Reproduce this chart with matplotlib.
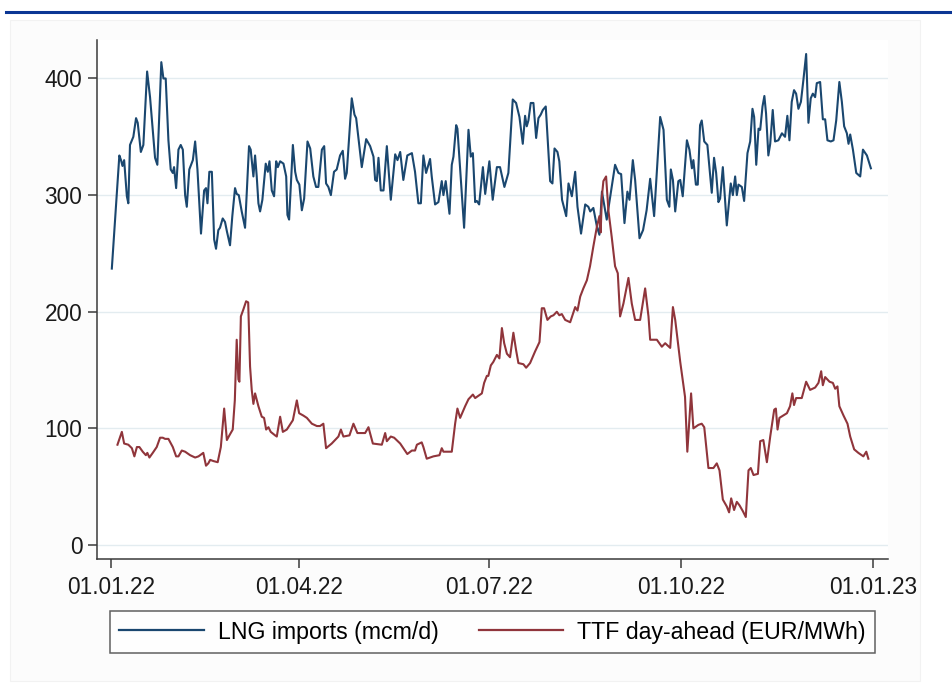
import matplotlib

matplotlib.use("Agg")
import matplotlib.dates as mdates
import matplotlib.pyplot as plt
import pandas as pd
from matplotlib.patches import Rectangle
from matplotlib.lines import Line2D

plt.rcParams["font.family"] = ["Liberation Sans", "DejaVu Sans"]

# days since 01.01.2022 and values
lng_days = [
    0.5, 4.1, 4.9, 5.6, 6.4, 7.7, 8.4, 9.2, 10.8, 12.1, 12.9, 14.4, 15.6, 17.4, 18.8,
    21.2, 22.3, 24.2, 25.2, 26.3, 27.6, 28.7, 29.7, 30.3, 31.3, 32.4, 33.5, 34.5, 35.6,
    36.4, 37.6, 39.3, 40.4, 41.5, 43.2, 44.7, 45.6, 46.3, 47.2, 48.4, 49.5, 50.4, 51.5,
    52.3, 53.6, 54.7, 55.6, 57.1, 58.2, 59.5, 60.3, 61.3, 62.7, 64.3, 66.2, 67.0, 68.3,
    69.1, 69.9, 70.7, 71.5, 72.6, 74.2, 75.2, 76.0, 77.1, 78.2, 79.2, 80.0, 81.1, 82.7,
    84.0, 84.6, 85.4, 87.2, 88.3, 89.1, 90.3, 91.5, 92.6, 94.2, 95.5, 97.0, 98.3, 99.4,
    101.1, 102.2, 103.1, 104.2, 105.4, 106.9, 108.2, 109.8, 111.1, 112.2, 113.0, 115.4,
    116.7, 117.5, 120.2, 122.3, 124.2, 125.8, 126.6, 127.4, 128.2, 129.3, 130.6, 132.2,
    134.1, 136.2, 137.3, 138.6, 140.1, 142.0, 144.2, 145.7, 147.3, 148.5, 149.7, 151.0,
    152.9, 153.7, 155.3, 156.9, 158.5, 159.3, 160.4, 162.2, 163.3, 164.1, 165.4, 166.0,
    167.3, 169.2, 170.2, 171.3, 172.4, 173.4, 174.5, 175.3, 176.4, 178.2, 179.3, 181.3,
    182.9, 184.9, 186.4, 188.5, 190.4, 192.5, 194.1, 195.7, 197.3, 198.4, 199.2, 200.0,
    201.1, 202.4, 203.7, 204.8, 205.9, 206.9, 208.3, 210.4, 211.5, 212.5, 213.9, 214.8,
    216.1, 218.1, 219.2, 220.8, 222.4, 223.5, 225.2, 227.2, 228.7, 229.6, 231.1, 232.8,
    234.0, 235.2, 237.5, 241.5, 243.1, 244.4, 246.0, 247.4, 248.4, 250.0, 251.1, 253.2,
    254.9, 256.6, 258.3, 260.2, 263.1, 264.7, 266.3, 267.5, 268.2, 269.2, 270.3, 271.8,
    272.7, 273.9, 275.9, 277.1, 278.3, 279.0, 280.2, 281.1, 282.2, 283.0, 284.2, 285.7,
    287.8, 288.9, 289.9, 291.0, 291.8, 293.1, 295.0, 296.9, 297.9, 299.0, 299.8, 300.6,
    302.2, 303.3, 304.9, 306.2, 307.3, 308.1, 309.1, 310.2, 311.0, 312.1, 313.0, 313.8,
    314.9, 315.8, 317.0, 318.1, 319.7, 321.4, 322.9, 324.0, 325.0, 326.1, 327.2, 328.2,
    329.3, 330.5, 331.7, 333.0, 334.1, 335.2, 336.2, 337.3, 338.1, 339.7, 341.0, 342.1,
    343.2, 344.8, 346.1, 347.4, 348.9, 350.1, 351.2, 352.5, 353.3, 354.1, 355.4, 357.0,
    358.9, 360.2, 362.1, 364.0,
]
lng_imports = [
    237, 334, 330, 325, 330, 299, 293, 343, 350, 366, 362, 337, 343, 406, 384,
    332, 326, 414, 400, 400, 347, 322, 319, 324, 306, 339, 343, 339, 300,
    290, 322, 330, 346, 322, 267, 304, 306, 293, 320, 320, 262, 254, 270,
    272, 280, 277, 269, 257, 282, 306, 301, 300, 286, 272, 342, 339, 316,
    334, 316, 293, 286, 296, 327, 320, 329, 304, 299, 329, 324, 329, 327,
    316, 283, 279, 343, 320, 313, 309, 287, 297, 346, 340, 316, 307, 307,
    339, 342, 310, 307, 300, 320, 322, 334, 338, 314, 319, 383,
    369, 366, 324, 348, 342, 333, 313, 312, 332, 304, 304, 342,
    296, 335, 330, 337, 313, 334, 336, 320, 293, 293, 334, 319,
    331, 316, 292, 294, 312, 300, 312, 284, 326, 333, 360, 357,
    322, 272, 313, 356, 333, 336, 294, 295, 292, 324, 301, 329,
    296, 324, 324, 307, 319, 382, 379, 367, 344, 368, 359, 364,
    379, 379, 349, 366, 369, 373, 376, 312, 310, 340, 337, 329,
    296, 282, 310, 299, 320, 290, 267, 292, 290, 286, 289, 273,
    266, 303, 279, 326, 319, 318, 276, 303, 296, 330, 313, 263,
    270, 287, 314, 282, 367, 356, 296, 290, 322, 313, 286, 312,
    313, 299, 347, 339, 323, 330, 309, 309, 360, 364, 346, 343,
    302, 332, 319, 294, 297, 324, 274, 310, 300, 316, 300, 309,
    307, 295, 336, 346, 374, 367, 326, 357, 356, 376, 385, 370,
    334, 344, 373, 346, 347, 353, 350, 368, 347, 380, 390, 387,
    374, 380, 399, 421, 362, 383, 387, 384, 396, 397, 365, 365,
    347, 346, 347, 364, 397, 380, 359, 353, 344, 352, 339, 319,
    316, 339, 334, 323,
]

ttf_days = [
    3.2, 5.3, 6.4, 8.4, 10.1, 11.3, 12.5, 13.7, 15.3, 16.8, 17.5, 18.5, 20.1, 22.0,
    23.6, 24.9, 26.0, 27.6, 29.7, 31.3, 32.4, 34.0, 35.6, 38.0, 40.4, 42.0, 44.3, 45.6,
    46.7, 47.6, 49.1, 51.2, 52.7, 54.3, 55.6, 56.8, 58.4, 59.4, 60.3, 61.1, 61.6, 62.3,
    63.5, 64.8, 65.8, 66.7, 67.5, 68.3, 69.1, 70.7, 72.3, 73.4, 74.4, 75.5, 76.6, 78.7,
    79.5, 81.1, 82.4, 84.3, 87.2, 89.1, 90.2, 92.2, 93.9, 96.3, 98.7, 100.2, 101.8,
    103.1, 105.8, 109.0, 110.2, 111.4, 114.3, 116.2, 118.1, 121.8, 123.4, 125.5, 129.8,
    131.4, 132.2, 134.1, 135.7, 138.6, 142.0, 144.2, 145.7, 146.6, 148.9, 149.7, 151.3,
    154.5, 157.4, 158.5, 159.3, 163.3, 164.9, 166.0, 167.3, 169.7, 171.3, 173.4, 174.5,
    177.7, 178.8, 180.1, 180.8, 182.0, 183.2, 184.9, 186.1, 187.3, 188.4, 189.7, 191.2,
    192.8, 194.1, 195.2, 197.6, 198.9, 200.8, 203.2, 205.3, 206.4, 207.5, 209.1, 210.7,
    212.0, 213.6, 214.8, 216.0, 217.6, 220.0, 221.3, 222.4, 223.5, 224.8, 226.3, 228.0,
    229.5, 231.1, 232.8, 234.0, 234.6, 235.2, 235.9, 237.2, 238.3, 239.9, 241.5, 242.8,
    243.9, 245.5, 247.9, 249.5, 251.1, 253.5, 255.9, 257.5, 258.3, 261.5, 263.9, 265.5,
    267.9, 269.2, 270.3, 272.7, 275.0, 276.1, 277.9, 279.0, 281.4, 283.0, 284.2, 286.2,
    288.6, 290.2, 291.5, 293.1, 295.0, 296.1, 297.1, 298.5, 299.8, 301.1, 302.7, 304.1,
    305.4, 306.5, 307.8, 309.9, 311.0, 312.5, 314.2, 315.8, 317.7, 318.5, 319.3, 320.2,
    323.8, 325.3, 326.4, 327.2, 328.2, 330.9, 333.0, 334.9, 337.3, 338.9, 340.2, 341.0,
    342.1, 344.2, 345.8, 346.9, 348.0, 348.9, 350.9, 352.8, 354.1, 356.0, 358.0, 360.4,
    361.8, 362.8,
]
ttf_price = [
    86, 97, 87, 86, 83, 76, 84, 84, 80, 77, 79, 75, 79, 84,
    92, 92, 91, 91, 84, 76, 76, 81, 80, 77, 75, 76, 79, 68,
    70, 73, 72, 71, 84, 117, 90, 94, 99, 124, 176, 142, 140, 196,
    202, 209, 208, 153, 133, 121, 130, 119, 110, 109, 99, 101, 97, 94,
    93, 110, 97, 99, 107, 124, 113, 111, 109, 104, 102, 102, 104,
    83, 87, 93, 99, 93, 94, 104, 96, 96, 101, 87, 86,
    96, 89, 93, 92, 87, 78, 81, 81, 86, 88, 84, 74,
    76, 77, 83, 80, 80, 104, 117, 109, 119, 125, 129, 126,
    130, 139, 145, 145, 154, 157, 163, 160, 186, 173, 164, 161,
    182, 167, 156, 155, 152, 156, 166, 174, 203, 203, 193, 196,
    197, 200, 197, 198, 193, 191, 198, 204, 201, 213, 220, 227,
    239, 256, 273, 282, 268, 299, 312, 316, 287, 264, 239, 233,
    196, 207, 229, 207, 193, 193, 220, 196, 176, 176, 170, 173,
    169, 204, 193, 157, 127, 80, 130, 100, 103, 104, 101, 66,
    66, 70, 64, 39, 33, 28, 40, 30, 37, 34, 29, 24,
    64, 66, 60, 61, 89, 90, 71, 93, 116, 117, 99, 109,
    113, 119, 130, 120, 126, 126, 140, 133, 135, 139, 149, 137,
    144, 140, 139, 134, 136, 119, 111, 104, 93, 82, 79, 76,
    80, 74,
]

tick_dates = ["2022-01-01", "2022-04-01", "2022-07-01", "2022-10-01", "2023-01-01"]
y_ticks = [0, 100, 200, 300, 400]
series_labels = ["LNG imports (mcm/d)", "TTF day-ahead (EUR/MWh)"]

start = pd.Timestamp("2022-01-01")
lng_dates = start + pd.to_timedelta(lng_days, unit="D")
ttf_dates = start + pd.to_timedelta(ttf_days, unit="D")

blue = "#1a476f"
maroon = "#90353b"
axis_col = "#3a3a3a"

fig = plt.figure(figsize=(9.53, 6.86), dpi=100)

# faint page frame and the header rule
frame = Rectangle((10 / 953, 1 - 681 / 686), 910 / 953, 661 / 686,
                  transform=fig.transFigure, facecolor="#fcfcfc",
                  edgecolor="#f2f2f2", linewidth=0.8, zorder=-10)
fig.add_artist(frame)
fig.add_artist(Line2D([6 / 953, 1.0], [1 - 12 / 686, 1 - 12 / 686],
                      transform=fig.transFigure, color="#0b3694", linewidth=2.2))

ax = fig.add_axes([97 / 953, 1 - 559 / 686, 791 / 953, 519 / 686])
ax.set_facecolor("white")

ax.plot(lng_dates, lng_imports, color=blue, linewidth=1.5, label=series_labels[0])
ax.plot(ttf_dates, ttf_price, color=maroon, linewidth=1.5, label=series_labels[1])

ax.set_ylim(-12, 433)
ax.set_xlim(start + pd.Timedelta(days=-6.6), start + pd.Timedelta(days=372.2))
ax.set_yticks(y_ticks)
ax.set_xticks(pd.to_datetime(tick_dates))
ax.xaxis.set_major_formatter(mdates.DateFormatter("%d.%m.%y"))

ax.grid(axis="y", color="#e3ecf0", linewidth=1.0)
ax.set_axisbelow(True)
for side in ["top", "right"]:
    ax.spines[side].set_visible(False)
for side in ["left", "bottom"]:
    ax.spines[side].set_color(axis_col)
    ax.spines[side].set_linewidth(1.1)

ax.tick_params(axis="both", colors=axis_col, labelcolor="#1a1a1a",
               labelsize=16.3, length=6.5, width=1.1)
ax.tick_params(axis="y", pad=4)
ax.tick_params(axis="x", pad=6)

leg = ax.legend(loc="center", bbox_to_anchor=(492.5 / 953, 1 - 632 / 686),
                bbox_transform=fig.transFigure, ncol=2, fontsize=16.7,
                frameon=True, fancybox=False, handlelength=3.66,
                handletextpad=0.6, columnspacing=1.72, borderpad=0.4)
leg.get_frame().set_edgecolor(axis_col)
leg.get_frame().set_linewidth(1.1)
for h in leg.get_lines():
    h.set_linewidth(1.6)

fig.savefig("out.png", dpi=100)
